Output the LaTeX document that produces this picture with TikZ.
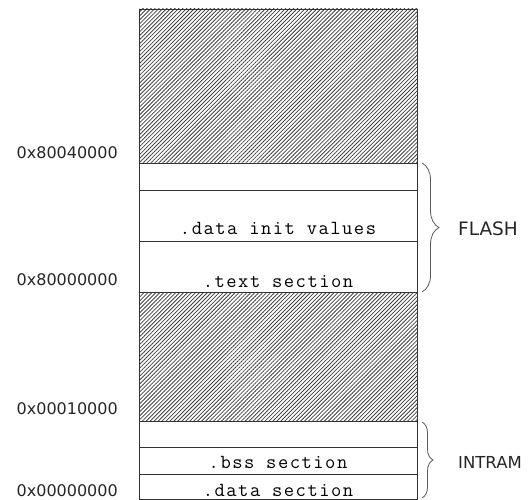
\documentclass[tikz,border=0pt]{standalone}
\usepackage{fontspec}
\setsansfont{DejaVu Sans}
\newfontfamily\secfont{Latin Modern Mono}[LetterSpace=7.5]
\usetikzlibrary{patterns.meta}
\usetikzlibrary{decorations.pathreplacing}

\begin{document}
\begin{tikzpicture}[x=1pt, y=-1pt,
    memline/.style={draw=black!80, line width=0.8pt},
    unused/.style={pattern={Lines[angle=45, distance=2.8pt, line width=0.8pt]}, pattern color=black!75},
    addr/.style={anchor=base east, inner sep=0pt, text=black!85, font=\sffamily\fontsize{16}{16}\selectfont},
    sect/.style={anchor=base, inner sep=0pt, font=\secfont\fontsize{20}{20}\selectfont},
    region/.style={decorate, decoration={brace, amplitude=#1}, draw=black!65, line width=0.8pt},
    memname/.style={anchor=base west, inner sep=0pt, text=black!85}]
    \useasboundingbox (0,0) rectangle (530,500);
    % Unused space
    \filldraw[memline, unused] (139.5,9) rectangle (417,163);
    \filldraw[memline, unused] (139.5,292) rectangle (417,421);
    % FLASH
    \draw[memline] (139.5,163) rectangle (417,190);
    \draw[memline] (139.5,190) rectangle (417,241);
    \draw[memline] (139.5,241) rectangle (417,292);
    % INTRAM
    \draw[memline] (139.5,421) rectangle (417,447);
    \draw[memline] (139.5,447) rectangle (417,474);
    \draw[memline] (139.5,474) rectangle (417,499.5);
    % Sections
    \node[sect] (datainit) at (278,234.5) {.data init values};
    \node[sect] (textsec) at (278,287) {.text section};
    \node[sect] (bsssec) at (278,468.5) {.bss section};
    \node[sect] (datasec) at (278,496.5) {.data section};
    % Addresses
    \node[addr] (flashtop) at (118,158) {0x80040000};
    \node[addr] (flashbase) at (118,285) {0x80000000};
    \node[addr] (ramtop) at (118,414) {0x00010000};
    \node[addr] (rambase) at (118,496.5) {0x00000000};
    % Braces
    \draw[region=17] (422,163) -- (422,292);
    \draw[region=11] (422,422) -- (422,498);
    \node[memname, font=\sffamily\fontsize{18.5}{18.5}\selectfont] (flash) at (458,235) {FLASH};
    \node[memname, font=\sffamily\fontsize{16.5}{16.5}\selectfont] (intram) at (458,468.5) {INTRAM};
\end{tikzpicture}
\end{document}
